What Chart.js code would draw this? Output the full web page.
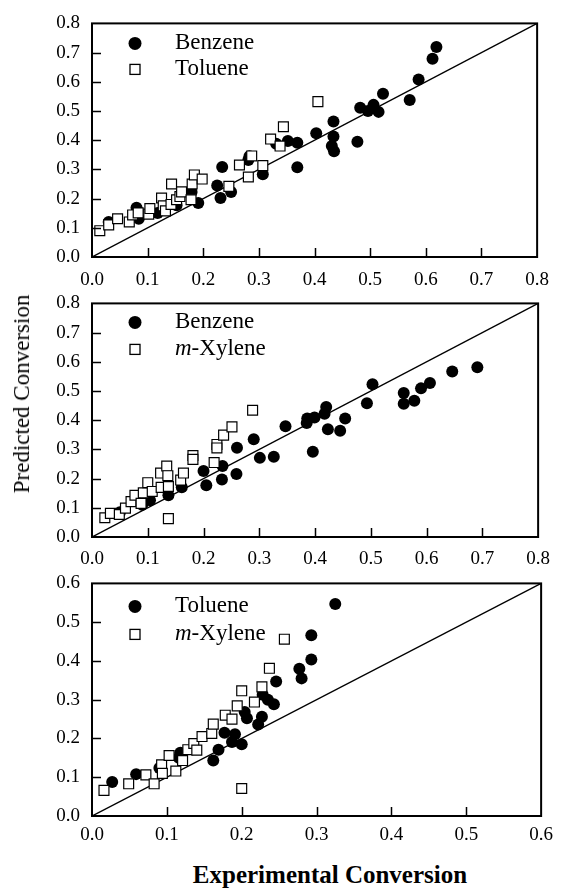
<!DOCTYPE html>
<html><head><meta charset="utf-8">
<script src="https://cdn.jsdelivr.net/npm/chart.js@4.4.1/dist/chart.umd.min.js"></script>
<style>
html,body{margin:0;padding:0;background:#fff;}
body{width:561px;height:888px;position:relative;overflow:hidden;font-family:"Liberation Serif",serif;color:#000;}
.panel{position:absolute;left:0;width:561px;}
#ytitle{position:absolute;left:22px;top:394px;transform:translate(-50%,-50%) rotate(-90deg);font-size:23px;white-space:nowrap;}
#xtitle{position:absolute;left:330px;top:875px;transform:translate(-50%,-50%);font-size:25px;font-weight:bold;white-space:nowrap;}
</style></head>
<body>
<div class="panel" style="top:0;height:292px"><canvas id="c1"></canvas></div>
<div class="panel" style="top:280px;height:290px"><canvas id="c2"></canvas></div>
<div class="panel" style="top:560px;height:290px"><canvas id="c3"></canvas></div>
<div id="ytitle">Predicted Conversion</div>
<div id="xtitle">Experimental Conversion</div>
<script>
// ---- tick values ----
const ticks08 = [0.0,0.1,0.2,0.3,0.4,0.5,0.6,0.7,0.8];
const ticks06 = [0.0,0.1,0.2,0.3,0.4,0.5,0.6];

// ---- Panel 1: Benzene / Toluene ----
const p1BenzeneX = [0.030,0.080,0.084,0.118,0.152,0.179,0.191,0.225,0.231,0.234,0.250,0.281,0.283,0.307,0.331,0.352,0.369,0.369,0.403,0.434,0.434,0.431,0.435,0.477,0.482,0.496,0.506,0.515,0.523,0.571,0.587,0.612,0.619];
const p1BenzeneY = [0.120,0.169,0.131,0.151,0.177,0.223,0.185,0.245,0.202,0.308,0.223,0.332,0.345,0.283,0.388,0.397,0.391,0.307,0.424,0.464,0.413,0.380,0.362,0.395,0.511,0.500,0.521,0.497,0.559,0.538,0.608,0.679,0.719];
const p1TolueneX = [0.014,0.030,0.046,0.067,0.073,0.083,0.102,0.104,0.125,0.128,0.132,0.142,0.143,0.152,0.158,0.161,0.178,0.180,0.184,0.198,0.246,0.265,0.281,0.287,0.307,0.321,0.338,0.344,0.406];
const p1TolueneY = [0.090,0.110,0.131,0.120,0.144,0.151,0.147,0.166,0.202,0.175,0.158,0.180,0.250,0.196,0.207,0.223,0.196,0.250,0.281,0.267,0.242,0.315,0.274,0.346,0.313,0.404,0.380,0.446,0.532];

// ---- Panel 2: Benzene / m-Xylene ----
const p2BenzeneX = [0.050,0.090,0.104,0.137,0.161,0.200,0.205,0.233,0.234,0.259,0.260,0.290,0.301,0.326,0.347,0.386,0.385,0.399,0.396,0.420,0.417,0.423,0.445,0.454,0.493,0.503,0.559,0.559,0.578,0.590,0.606,0.646,0.691];
const p2BenzeneY = [0.085,0.110,0.126,0.143,0.170,0.226,0.177,0.197,0.243,0.216,0.306,0.335,0.271,0.275,0.379,0.406,0.390,0.409,0.292,0.445,0.422,0.369,0.364,0.406,0.458,0.523,0.493,0.456,0.467,0.509,0.527,0.567,0.581];
const p2XyleneX = [0.023,0.033,0.049,0.060,0.070,0.077,0.088,0.092,0.100,0.108,0.123,0.124,0.134,0.136,0.137,0.137,0.159,0.164,0.181,0.181,0.219,0.224,0.224,0.236,0.251,0.288];
const p2XyleneY = [0.066,0.081,0.077,0.099,0.121,0.143,0.115,0.151,0.186,0.156,0.219,0.170,0.243,0.210,0.173,0.063,0.195,0.219,0.279,0.266,0.255,0.317,0.305,0.349,0.377,0.434];

// ---- Panel 3: Toluene / m-Xylene ----
const p3TolueneX = [0.027,0.059,0.090,0.116,0.118,0.162,0.169,0.177,0.187,0.191,0.200,0.204,0.207,0.222,0.227,0.228,0.235,0.243,0.246,0.277,0.280,0.293,0.293,0.325];
const p3TolueneY = [0.088,0.108,0.124,0.150,0.163,0.143,0.171,0.215,0.191,0.211,0.185,0.268,0.252,0.236,0.256,0.313,0.300,0.288,0.347,0.380,0.355,0.404,0.466,0.547];
const p3XyleneX = [0.016,0.049,0.072,0.083,0.093,0.094,0.103,0.112,0.121,0.128,0.136,0.140,0.147,0.160,0.162,0.178,0.187,0.194,0.200,0.200,0.217,0.227,0.237,0.257];
const p3XyleneY = [0.066,0.083,0.106,0.083,0.132,0.110,0.156,0.116,0.143,0.171,0.187,0.170,0.205,0.213,0.237,0.260,0.250,0.284,0.323,0.071,0.294,0.333,0.381,0.456];

const FONT = "'Liberation Serif', serif";
const toPts = (xs, ys) => xs.map((x, i) => ({x: x, y: ys[i]}));

const framePlugin = {
  id: 'frameTicks',
  afterDraw(chart, args, opts) {
    const ctx = chart.ctx, a = chart.chartArea;
    const xs = chart.scales.x, ys = chart.scales.y;
    ctx.save();
    ctx.strokeStyle = '#000';
    ctx.lineWidth = 1.5;
    ctx.beginPath();
    opts.xt.slice(1, -1).forEach(v => {
      const p = Math.round(xs.getPixelForValue(v)) + 0.5;
      ctx.moveTo(p, a.bottom); ctx.lineTo(p, a.bottom - 9);
    });
    opts.yt.slice(1, -1).forEach(v => {
      const p = Math.round(ys.getPixelForValue(v)) + 0.5;
      ctx.moveTo(a.left, p); ctx.lineTo(a.left + 9, p);
    });
    ctx.stroke();
    ctx.lineWidth = 2;
    ctx.strokeRect(a.left, a.top, a.right - a.left, a.bottom - a.top);
    // legend
    opts.legend.forEach((it, i) => {
      const cy = a.top + opts.ly[i];
      const mx = a.left + 43;
      ctx.lineWidth = 1.3;
      if (it.style === 'circle') {
        ctx.fillStyle = '#000';
        ctx.beginPath(); ctx.arc(mx, cy, 6.5, 0, Math.PI * 2); ctx.fill();
      } else {
        ctx.fillStyle = '#fff';
        ctx.fillRect(mx - 5, cy - 5, 10, 10);
        ctx.strokeRect(mx - 5, cy - 5, 10, 10);
      }
      ctx.fillStyle = '#000';
      ctx.textBaseline = 'middle';
      ctx.textAlign = 'left';
      let tx = a.left + 83;
      if (it.italic) {
        ctx.font = "italic 23px " + FONT;
        ctx.fillText(it.italic, tx, cy);
        tx += ctx.measureText(it.italic).width;
      }
      ctx.font = "23px " + FONT;
      ctx.fillText(it.text, tx, cy);
    });
    ctx.restore();
  }
};

function makePanel(id, opt) {
  const H = opt.H;
  const circleSet = {
    label: opt.circleLabel, data: toPts(opt.cx, opt.cy),
    pointStyle: 'circle', pointRadius: 6, pointBackgroundColor: '#000', pointBorderColor: '#000',
    pointBorderWidth: 0, showLine: false, order: 1
  };
  const squareSet = {
    label: opt.squareLabel, data: toPts(opt.sx, opt.sy),
    pointStyle: 'rect', pointRadius: 7, pointBackgroundColor: '#fff', pointBorderColor: '#000',
    pointBorderWidth: 1.2, showLine: false, order: 0
  };
  const diag = {
    label: 'y=x', data: [{x: 0, y: 0}, {x: opt.max, y: opt.max}],
    showLine: true, borderColor: '#000', borderWidth: 1.4, pointRadius: 0, order: 2
  };
  return new Chart(document.getElementById(id), {
    type: 'scatter',
    data: { datasets: [squareSet, circleSet, diag] },
    options: {
      responsive: true, maintainAspectRatio: false, animation: false,
      events: [],
      layout: { padding: { top: opt.top, right: 14, left: 0, bottom: 0 } },
      plugins: {
        legend: { display: false }, tooltip: { enabled: false },
        frameTicks: { xt: opt.ticks, yt: opt.ticks, legend: opt.legend, ly: opt.ly }
      },
      scales: {
        x: {
          type: 'linear', min: 0, max: opt.max,
          afterBuildTicks: s => { s.ticks = opt.ticks.map(v => ({value: v})); },
          afterFit: s => { s.height = H - opt.bottom; },
          grid: { display: false, drawTicks: false }, border: { display: false },
          ticks: { autoSkip: false, maxRotation: 0, padding: opt.xpad, color: '#000',
                   font: { family: FONT, size: 19 }, callback: v => Number(v).toFixed(1) }
        },
        y: {
          type: 'linear', min: 0, max: opt.max,
          afterBuildTicks: s => { s.ticks = opt.ticks.map(v => ({value: v})); },
          afterFit: s => { s.width = 92; },
          grid: { display: false, drawTicks: false }, border: { display: false },
          ticks: { autoSkip: false, padding: 12, color: '#000',
                   font: { family: FONT, size: 19 }, callback: v => Number(v).toFixed(1) }
        }
      }
    },
    plugins: [framePlugin]
  });
}

makePanel('c1', { H: 292, top: 11, bottom: 257, xpad: 12, max: 0.8, ticks: ticks08,
  cx: p1BenzeneX, cy: p1BenzeneY, sx: p1TolueneX, sy: p1TolueneY,
  circleLabel: 'Benzene', squareLabel: 'Toluene',
  legend: [{style: 'circle', text: 'Benzene'}, {style: 'rect', text: 'Toluene'}], ly: [20, 46] });

makePanel('c2', { H: 290, top: 12, bottom: 257, xpad: 11, max: 0.8, ticks: ticks08,
  cx: p2BenzeneX, cy: p2BenzeneY, sx: p2XyleneX, sy: p2XyleneY,
  circleLabel: 'Benzene', squareLabel: 'm-Xylene',
  legend: [{style: 'circle', text: 'Benzene'}, {style: 'rect', italic: 'm', text: '-Xylene'}], ly: [19, 46] });

makePanel('c3', { H: 290, top: 10, bottom: 256, xpad: 8, max: 0.6, ticks: ticks06,
  cx: p3TolueneX, cy: p3TolueneY, sx: p3XyleneX, sy: p3XyleneY,
  circleLabel: 'Toluene', squareLabel: 'm-Xylene',
  legend: [{style: 'circle', text: 'Toluene'}, {style: 'rect', italic: 'm', text: '-Xylene'}], ly: [23, 51] });
</script>
</body></html>
